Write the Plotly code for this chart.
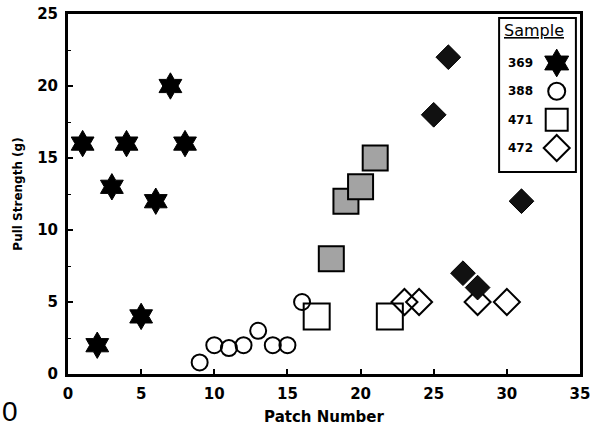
import plotly.graph_objects as go

# ---- data ----
s369_x = [1, 2, 3, 4, 5, 6, 7, 8]
s369_y = [16, 2, 13, 16, 4, 12, 20, 16]

s388_x = [9, 10, 11, 12, 13, 14, 15, 16]
s388_y = [0.8, 2, 1.8, 2, 3, 2, 2, 5]

s471_open_x = [17, 22]
s471_open_y = [4, 4]
s471_fill_x = [18, 19, 20, 21]
s471_fill_y = [8, 12, 13, 15]

s472_open_x = [23, 24, 28, 30]
s472_open_y = [5, 5, 5, 5]
s472_fill_x = [25, 26, 27, 28, 31]
s472_fill_y = [18, 22, 7, 6, 12]

legend_labels = ["369", "388", "471", "472"]
legend_rows = [1, 2, 3, 4]
legend_symbols = ["hexagram", "circle-open", "square-open", "diamond-open"]
legend_sizes = [21, 17, 22, 20]

x_ticks = [0, 5, 10, 15, 20, 25, 30, 35]
y_ticks = [0, 5, 10, 15, 20, 25]

FONT = "DejaVu Sans"
BOLD = "DejaVu Sans"

fig = go.Figure()

# open markers first
fig.add_trace(go.Scatter(
    x=s388_x, y=s388_y, mode="markers", showlegend=False, cliponaxis=False,
    marker=dict(symbol="circle-open", size=16, color="black", line=dict(width=2, color="black"))))
fig.add_trace(go.Scatter(
    x=s471_open_x, y=s471_open_y, mode="markers", showlegend=False, cliponaxis=False,
    marker=dict(symbol="square-open", size=26, color="black", line=dict(width=2, color="black"))))
fig.add_trace(go.Scatter(
    x=s472_open_x, y=s472_open_y, mode="markers", showlegend=False, cliponaxis=False,
    marker=dict(symbol="diamond-open", size=20, color="black", line=dict(width=2, color="black"))))
# filled markers
fig.add_trace(go.Scatter(
    x=s471_fill_x, y=s471_fill_y, mode="markers", showlegend=False, cliponaxis=False,
    marker=dict(symbol="square", size=25, color="#a3a3a3", line=dict(width=2, color="black"))))
fig.add_trace(go.Scatter(
    x=s472_fill_x, y=s472_fill_y, mode="markers", showlegend=False, cliponaxis=False,
    marker=dict(symbol="diamond", size=19, color="#111111", line=dict(width=1, color="black"))))
fig.add_trace(go.Scatter(
    x=s369_x, y=s369_y, mode="markers", showlegend=False, cliponaxis=False,
    marker=dict(symbol="hexagram", size=20, color="black", line=dict(width=1, color="black"))))

# custom legend keys (drawn on a small inset axis, one row per category)
for lab, row, sym, sz in zip(legend_labels, legend_rows, legend_symbols, legend_sizes):
    fig.add_trace(go.Scatter(
        x=[0.75], y=[row], mode="markers", showlegend=False, cliponaxis=False,
        xaxis="x2", yaxis="y2", name=lab,
        marker=dict(symbol=sym, size=sz, color="black", opacity=1,
                    line=dict(width=2 if sym.endswith("open") else 1, color="black"))))

annotations = []
for lab, row in zip(legend_labels, legend_rows):
    annotations.append(dict(text=lab, x=0.47, y=row, xref="x2", yref="y2", xanchor="right",
                            yanchor="middle", showarrow=False,
                            font=dict(family=BOLD, size=12, color="black", weight="bold")))
annotations.append(dict(text="<u>Sample</u>", x=0.46, y=-0.13, xref="x2", yref="y2",
                        xanchor="center", yanchor="middle", showarrow=False,
                        font=dict(family=FONT, size=16, color="black")))
annotations.append(dict(text="0", x=0, y=-0.103, xref="paper", yref="paper",
                        xanchor="left", yanchor="middle", showarrow=False, xshift=-68,
                        font=dict(family="Liberation Sans", size=28, color="black")))

fig.update_layout(
    width=606, height=431,
    margin=dict(l=68, r=26, t=14, b=57),
    paper_bgcolor="white", plot_bgcolor="white",
    showlegend=False,
    annotations=annotations,
    shapes=[dict(type="rect", xref="x2 domain", yref="y2 domain", x0=0, x1=1, y0=0, y1=1,
                 line=dict(color="black", width=2), fillcolor="rgba(0,0,0,0)")],
    xaxis=dict(range=[0, 35], tickvals=x_ticks, ticks="inside", ticklen=5, tickwidth=2,
               tickcolor="black", showline=True, linewidth=3, linecolor="black", mirror=True,
               showgrid=False, zeroline=False, ticklabelstandoff=4, automargin=False,
               tickfont=dict(family=BOLD, size=15, color="black", weight="bold"),
               title=dict(text="Patch Number", standoff=10,
                          font=dict(family=BOLD, size=15, color="black", weight="bold"))),
    yaxis=dict(range=[0, 25], tickvals=y_ticks, ticks="inside", ticklen=5, tickwidth=2,
               tickcolor="black", showline=True, linewidth=3, linecolor="black", mirror=True,
               showgrid=False, zeroline=False, ticklabelstandoff=4, automargin=False,
               minor=dict(dtick=2.5, ticks="inside", ticklen=3, tickwidth=1, tickcolor="black"),
               tickfont=dict(family=BOLD, size=15, color="black", weight="bold"),
               title=dict(text="Pull Strength (g)", standoff=12,
                          font=dict(family=BOLD, size=12, color="black", weight="bold"))),
    xaxis2=dict(domain=[0.842, 0.992], range=[0, 1], visible=False, anchor="y2",
                fixedrange=True),
    yaxis2=dict(domain=[0.561, 0.989], range=[4.85, -0.59], visible=False, anchor="x2",
                fixedrange=True),
)

fig.write_html("out.html", config={"displayModeBar": False},
               post_script="document.body.style.margin='0px';")
